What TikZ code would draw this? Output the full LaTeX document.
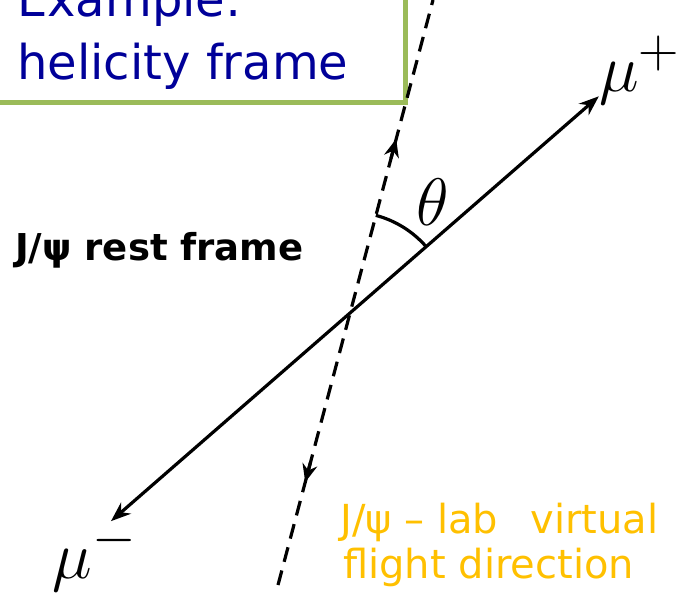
\documentclass[tikz,border=0pt]{standalone}
\usepackage{fontspec}
\setmainfont{DejaVu Sans}
\usetikzlibrary{arrows.meta, calc}
\definecolor{boxGreen}{RGB}{155,187,89}
\definecolor{titleBlue}{RGB}{0,0,153}
\definecolor{labOrange}{RGB}{255,192,0}
\tikzset{
	muline/.style={{Stealth[length=20pt, width=15pt]}-{Stealth[length=20pt, width=15pt]}, line width=3.2pt},
	flightline/.style={dash pattern=on 15pt off 9pt, line width=3.2pt},
	flightarr/.style={-{Stealth[length=18pt, width=15pt]}, line width=3.2pt},
	titlebox/.style={draw=boxGreen, line width=5pt, fill=white},
	titletext/.style={text=titleBlue, font=\fontsize{48}{52}\selectfont, anchor=base west, inner sep=0pt},
	resttext/.style={font=\fontsize{37}{40}\selectfont\bfseries, anchor=base west, inner sep=0pt},
	labtext/.style={text=labOrange, font=\fontsize{40}{44}\selectfont, anchor=base west, inner sep=0pt},
	mathlabel/.style={font=\fontsize{24.88}{30}\selectfont, inner sep=0pt, scale=2.7, transform shape}
}
\begin{document}
\begin{tikzpicture}[x=1pt, y=1pt]
	\clip (0,0) rectangle (684,595);
	% title box, cut by the top edge
	\draw[titlebox] (-10,492) rectangle (405,640);
	\node[titletext] (example) at (17,578) {Example:};
	\node[titletext] (helicity) at (17,515) {helicity frame};
	% axes through the rest-frame origin
	\coordinate (O) at (350,282);
	\coordinate (flighttop) at (433,595);
	\coordinate (flightbot) at (278,10);
	\coordinate (mupend) at ($(O)+(41.05:330)$);
	\coordinate (mumend) at ($(O)+(221.05:317)$);
	\draw[flightline] (flightbot) -- (flighttop);
	\draw[flightarr] ($(O)!160pt!(flighttop)$) -- ($(O)!180pt!(flighttop)$);
	\draw[flightarr] ($(O)!155pt!(flightbot)$) -- ($(O)!175pt!(flightbot)$);
	\draw[muline] (mumend) -- (mupend);
	\draw[line width=3.2pt] ($(O)+(75.2:101)$) arc[start angle=75.2, end angle=41.05, radius=101];
	\node[mathlabel] (theta) at (433,393) {$\theta$};
	\node[mathlabel] (muplus) at (640,525) {$\mu^+$};
	\node[mathlabel] (muminus) at (95,38) {$\mu^-$};
	% labels
	\node[resttext] (rest) at (15,335) {J/ψ rest frame};
	\node[labtext] (lab1) at (340,62) {J/ψ – lab\hspace{0.8em}virtual};
	\node[labtext] (lab2) at (343,17) {flight direction};
\end{tikzpicture}
\end{document}
